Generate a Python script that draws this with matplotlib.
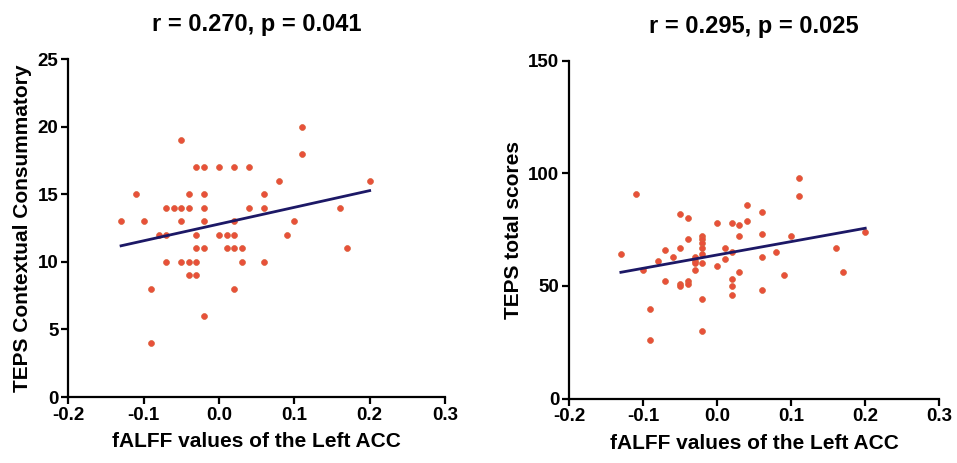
import numpy as np
from matplotlib import pyplot as plt

plt.rcParams['font.family'] = ['Liberation Sans', 'DejaVu Sans']
plt.rcParams['font.weight'] = 'bold'

# left panel: TEPS contextual consummatory vs fALFF
left_x = [-0.13, -0.11, -0.10, -0.09, -0.09, -0.08, -0.07, -0.07, -0.07, -0.06,
          -0.05, -0.05, -0.05, -0.05, -0.04, -0.04, -0.04, -0.04,
          -0.03, -0.03, -0.03, -0.03, -0.03,
          -0.02, -0.02, -0.02, -0.02, -0.02, -0.02,
          0.00, 0.00, 0.01, 0.01, 0.02, 0.02, 0.02, 0.02, 0.02, 0.03, 0.03,
          0.04, 0.04, 0.06, 0.06, 0.06, 0.08, 0.09, 0.10, 0.11, 0.11,
          0.16, 0.17, 0.20]
left_y = [13, 15, 13, 8, 4, 12, 12, 10, 14, 14,
          19, 14, 13, 10, 15, 14, 10, 9,
          17, 12, 11, 10, 9,
          17, 15, 14, 13, 11, 6,
          17, 12, 12, 11, 17, 13, 12, 11, 8, 11, 10,
          17, 14, 15, 14, 10, 16, 12, 13, 20, 18,
          14, 11, 16]

# right panel: TEPS total scores vs fALFF
right_x = [-0.13, -0.11, -0.10, -0.09, -0.09, -0.08, -0.07, -0.07, -0.06,
           -0.05, -0.05, -0.05, -0.05, -0.04, -0.04, -0.04, -0.04,
           -0.03, -0.03, -0.03, -0.03,
           -0.02, -0.02, -0.02, -0.02, -0.02, -0.02, -0.02, -0.02,
           0.00, 0.00, 0.01, 0.01, 0.02, 0.02, 0.02, 0.02, 0.02,
           0.03, 0.03, 0.03, 0.04, 0.04, 0.06, 0.06, 0.06, 0.06,
           0.08, 0.09, 0.10, 0.11, 0.11, 0.16, 0.17, 0.20]
right_y = [64, 91, 57, 40, 26, 61, 66, 52, 63,
           82, 67, 51, 50, 80, 71, 52, 51,
           63, 61, 60, 57,
           72, 71, 69, 67, 64, 60, 44, 30,
           78, 59, 67, 62, 78, 65, 53, 50, 46,
           77, 72, 56, 86, 79, 83, 73, 63, 48,
           65, 55, 72, 98, 90, 67, 56, 74]

titles = ['r = 0.270, p = 0.041', 'r = 0.295, p = 0.025']
ylabels = ['TEPS Contextual Consummatory', 'TEPS total scores']
xlabel = 'fALFF values of the Left ACC'
xticks = [-0.2, -0.1, 0.0, 0.1, 0.2, 0.3]
yticks = [[0, 5, 10, 15, 20, 25], [0, 50, 100, 150]]
ylims = [(0, 25), (0, 150)]

fig = plt.figure(figsize=(9.57, 4.63), dpi=100)
ax1 = fig.add_axes([0.0714, 0.1425, 0.3936, 0.7295])
ax2 = fig.add_axes([0.5946, 0.139, 0.3869, 0.730])

panels = [(ax1, left_x, left_y), (ax2, right_x, right_y)]
for i, (ax, xs, ys) in enumerate(panels):
    xs = np.array(xs)
    ys = np.array(ys)
    ax.scatter(xs, ys, s=18, color='#e8503a', edgecolors='#d9643c',
               linewidths=0.5, zorder=3)
    k, b = np.polyfit(xs, ys, 1)
    lx = np.array([xs.min(), xs.max()])
    ax.plot(lx, k * lx + b, color='#1c1866', lw=2, zorder=4)

    ax.set_xlim(-0.2, 0.3)
    ax.set_ylim(*ylims[i])
    ax.set_xticks(xticks)
    ax.set_xticklabels(['%.1f' % t for t in xticks])
    ax.set_yticks(yticks[i])
    for s in ['top', 'right']:
        ax.spines[s].set_visible(False)
    for s in ['left', 'bottom']:
        ax.spines[s].set_linewidth(1.6)
    ax.tick_params(width=1.6, length=5, labelsize=13.5, pad=2)
    ax.set_title(titles[i], fontsize=17, fontweight='bold', pad=20)
    ax.set_xlabel(xlabel, fontsize=15, fontweight='bold', labelpad=6)
    ax.set_ylabel(ylabels[i], fontsize=15, fontweight='bold', labelpad=4)
    ax.margins(0)

fig.savefig('out.png', dpi=100)
